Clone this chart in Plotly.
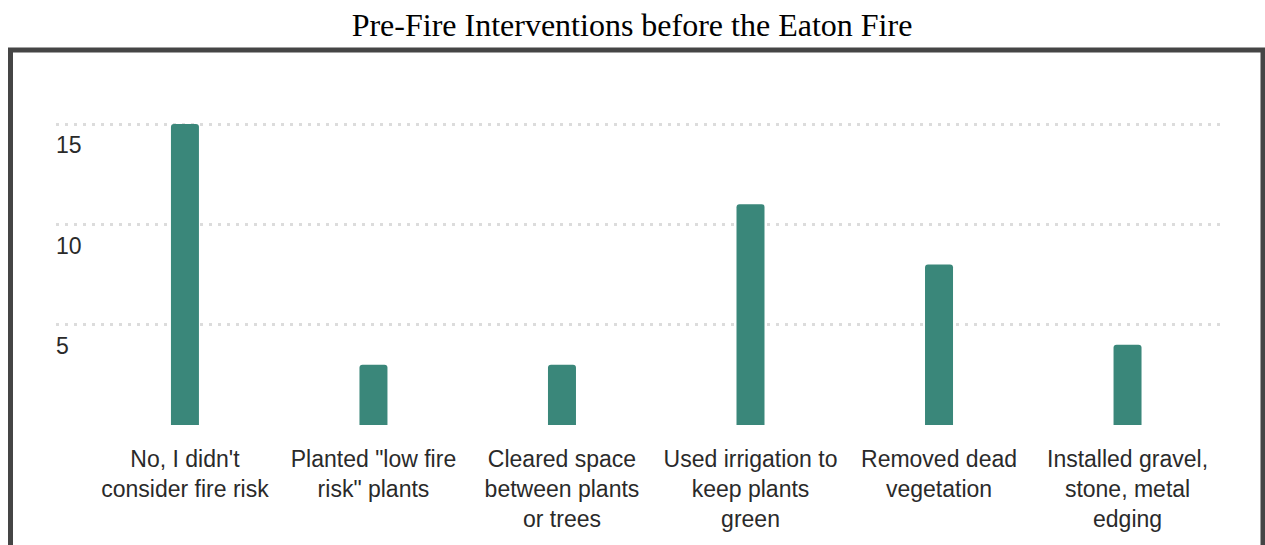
import plotly.graph_objects as go

# ---- data ----
categories = [
    "No, I didn't<br>consider fire risk",
    "Planted \"low fire<br>risk\" plants",
    "Cleared space<br>between plants<br>or trees",
    "Used irrigation to<br>keep plants<br>green",
    "Removed dead<br>vegetation",
    "Installed gravel,<br>stone, metal<br>edging",
]
counts = [15, 3, 3, 11, 8, 4]
y_tickvals = [0, 5, 10, 15]
y_ticktext = ["", "5", "10", "15"]
title_text = "Pre-Fire Interventions before the Eaton Fire"

# ---- layout geometry (pixels, page coordinates; body margin removed) ----
W, H = 1265, 545
ML, MR, MT, MB = 56, 40, 84, 120
PW, PH = W - ML - MR, H - MT - MB

def px_to_paper_x(px):
    return (px - ML) / PW

def px_to_paper_y(py):
    return (H - MB - py) / PH

fig = go.Figure()
fig.add_trace(go.Bar(
    x=list(range(len(categories))),
    y=counts,
    width=0.1485,
    marker=dict(color="#3a877a", cornerradius=3, line=dict(width=0)),
    hoverinfo="skip",
))

fig.update_layout(
    width=W, height=H,
    margin=dict(l=ML, r=MR, t=MT, b=MB, pad=0),
    paper_bgcolor="white",
    plot_bgcolor="white",
    showlegend=False,
    title=dict(
        text=title_text,
        x=632 / W, xanchor="center",
        xref="container", yref="container",
        y=(H - 25) / H, yanchor="middle",
        font=dict(family="Liberation Serif, Times New Roman, serif", size=32, color="#000000"),
    ),
    xaxis=dict(
        tickmode="array",
        tickvals=list(range(len(categories))),
        ticktext=categories,
        range=[-0.684, 5.517],
        showgrid=False, zeroline=False, showline=False,
        ticks="", tickangle=0,
        tickfont=dict(family="Liberation Sans, Arial, sans-serif", size=23, color="#2a2a2a"),
        ticklabelstandoff=18,
        fixedrange=True,
    ),
    yaxis=dict(
        tickmode="array",
        tickvals=y_tickvals,
        ticktext=y_ticktext,
        range=[0, 17],
        showgrid=True, gridcolor="#dcdcdc", gridwidth=2.5, griddash="3px,6px",
        zeroline=False, showline=False, ticks="",
        ticklabelposition="inside bottom",
        ticklabelstandoff=-3,
        ticklabelshift=5,
        tickfont=dict(family="Liberation Sans, Arial, sans-serif", size=23, color="#2a2a2a"),
        fixedrange=True,
    ),
)

# outer frame
fig.add_shape(
    type="rect", xref="paper", yref="paper",
    x0=px_to_paper_x(10.5), x1=px_to_paper_x(1263),
    y0=px_to_paper_y(600), y1=px_to_paper_y(50),
    line=dict(color="#454545", width=5),
    fillcolor="rgba(0,0,0,0)",
    layer="above",
)

fig.write_html(
    "out.html",
    config={"displayModeBar": False},
    post_script="document.body.style.margin='0';document.body.style.overflow='hidden';",
)
